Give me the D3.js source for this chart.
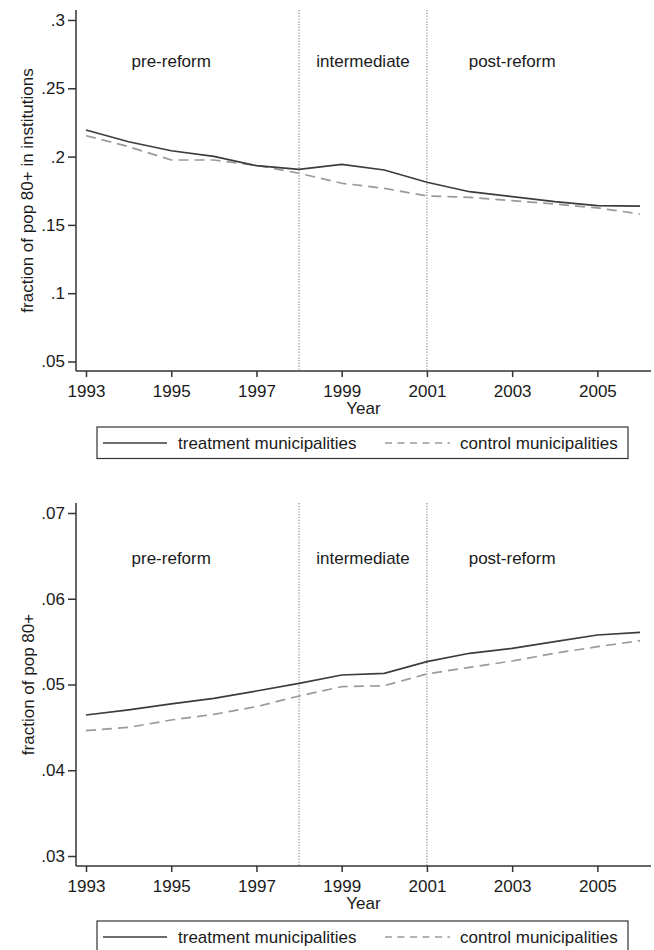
<!DOCTYPE html>
<html>
<head>
<meta charset="utf-8">
<script src="https://cdn.jsdelivr.net/npm/d3@7"></script>
<style>
  body { margin: 0; background: #fff; }
  svg text { font-family: "Liberation Sans", Arial, sans-serif; fill: #1a1a1a; }
</style>
</head>
<body>
<div id="chart"></div>
<script>
// data ++++++++++++++++++++++++++++++++++++++++++
const years = [1993, 1994, 1995, 1996, 1997, 1998, 1999, 2000, 2001, 2002, 2003, 2004, 2005, 2006];
const xTicks = [1993, 1995, 1997, 1999, 2001, 2003, 2005];
const reformYears = [1998, 2001];
const periodLabels = [
  { text: "pre-reform", year: 1995 },
  { text: "intermediate", year: 1999.5 },
  { text: "post-reform", year: 2003 }
];
const seriesNames = ["treatment municipalities", "control municipalities"];

// panel 1: fraction of pop 80+ in institutions
const instTreatment = [0.2195, 0.2109, 0.2043, 0.2002, 0.1934, 0.1907, 0.1943, 0.1902, 0.1812, 0.1743, 0.1707, 0.1670, 0.1641, 0.1638];
const instControl   = [0.2153, 0.2073, 0.1975, 0.1975, 0.1936, 0.1878, 0.1805, 0.1768, 0.1712, 0.1702, 0.1677, 0.1653, 0.1624, 0.1580];
const instTicks = [0.05, 0.1, 0.15, 0.2, 0.25, 0.3];

// panel 2: fraction of pop 80+
const popTreatment = [0.04644, 0.04703, 0.04773, 0.04839, 0.04924, 0.05014, 0.05111, 0.05130, 0.05266, 0.05364, 0.05422, 0.05499, 0.05577, 0.05609];
const popControl   = [0.04462, 0.04500, 0.04586, 0.04652, 0.04742, 0.04866, 0.04975, 0.04986, 0.05123, 0.05200, 0.05274, 0.05364, 0.05441, 0.05511];
const popTicks = [0.03, 0.04, 0.05, 0.06, 0.07];
// data ------------------------------------------

const width = 654;
const height = 950;

const svg = d3.select("#chart")
  .append("svg")
  .attr("width", width)
  .attr("height", height);

// shared x scale (same horizontal layout for both panels)
const x = d3.scaleLinear().domain([1993, 2006]).range([86, 640]);
const axisLeft = 76;
const axisRight = 651;

// strip the leading zero like Stata does: .05, .1
const fmtY = d => String(+d.toFixed(3)).replace(/^0\./, ".");

function drawPanel(cfg) {
  const g = svg.append("g");
  const y = d3.scaleLinear().domain(cfg.yDomain).range(cfg.yRange);
  const top = cfg.axisTop, bottom = cfg.axisBottom;

  // reform boundaries
  g.selectAll("line.reform")
    .data(reformYears)
    .enter()
    .append("line")
    .attr("class", "reform")
    .attr("x1", d => x(d)).attr("x2", d => x(d))
    .attr("y1", top).attr("y2", bottom)
    .attr("stroke", "#8a8a8a")
    .attr("stroke-width", 1.2)
    .attr("stroke-dasharray", "1.2,1.6");

  // period labels
  g.selectAll("text.period")
    .data(periodLabels)
    .enter()
    .append("text")
    .attr("class", "period")
    .attr("x", d => x(d.year))
    .attr("y", y(cfg.labelValue))
    .attr("dy", "0.35em")
    .attr("text-anchor", "middle")
    .attr("font-size", "17px")
    .text(d => d.text);

  // series lines
  const line = d3.line()
    .x((d, i) => x(years[i]))
    .y(d => y(d));

  g.append("path")
    .datum(cfg.control)
    .attr("fill", "none")
    .attr("stroke", "#9a9a9a")
    .attr("stroke-width", 1.7)
    .attr("stroke-dasharray", "10,6")
    .attr("d", line);

  g.append("path")
    .datum(cfg.treatment)
    .attr("fill", "none")
    .attr("stroke", "#3c3c3c")
    .attr("stroke-width", 1.7)
    .attr("d", line);

  // y axis
  const yAxis = g.append("g")
    .attr("transform", `translate(${axisLeft},0)`)
    .call(d3.axisLeft(y).tickValues(cfg.yTicks).tickFormat(fmtY).tickSize(8).tickPadding(3));
  yAxis.select(".domain").attr("d", `M0,${top}V${bottom}`);
  yAxis.selectAll("line, path").attr("stroke", "#333").attr("stroke-width", 1.5);
  yAxis.selectAll("text").attr("font-size", "17px").attr("fill", "#1a1a1a");

  // x axis
  const xAxis = g.append("g")
    .attr("transform", `translate(0,${bottom})`)
    .call(d3.axisBottom(x).tickValues(xTicks).tickFormat(d3.format("d")).tickSize(6).tickPadding(8));
  xAxis.select(".domain").attr("d", `M${axisLeft},0H${axisRight}`);
  xAxis.selectAll("line, path").attr("stroke", "#333").attr("stroke-width", 1.5);
  xAxis.selectAll("text").attr("font-size", "17px").attr("fill", "#1a1a1a");

  // axis titles
  g.append("text")
    .attr("x", (axisLeft + axisRight) / 2)
    .attr("y", bottom + 37)
    .attr("dy", "0.35em")
    .attr("text-anchor", "middle")
    .attr("font-size", "17px")
    .text("Year");

  g.append("text")
    .attr("transform", `translate(${cfg.titleX},${(top + bottom) / 2}) rotate(-90)`)
    .attr("dy", "0.35em")
    .attr("text-anchor", "middle")
    .attr("font-size", "17px")
    .text(cfg.yTitle);

  // legend
  const lg = g.append("g").attr("transform", `translate(0,${cfg.legendTop})`);
  lg.append("rect")
    .attr("x", 97).attr("y", 0)
    .attr("width", 531).attr("height", 31.5)
    .attr("fill", "#fff")
    .attr("stroke", "#333")
    .attr("stroke-width", 1.2);

  const entries = [
    { name: seriesNames[0], x0: 103, x1: 167, tx: 178, stroke: "#3c3c3c", dash: null },
    { name: seriesNames[1], x0: 385, x1: 450, tx: 460, stroke: "#9a9a9a", dash: "7,5.5" }
  ];
  entries.forEach(e => {
    lg.append("line")
      .attr("x1", e.x0).attr("x2", e.x1)
      .attr("y1", 16).attr("y2", 16)
      .attr("stroke", e.stroke)
      .attr("stroke-width", 1.7)
      .attr("stroke-dasharray", e.dash);
    lg.append("text")
      .attr("x", e.tx).attr("y", 16)
      .attr("dy", "0.35em")
      .attr("font-size", "17px")
      .text(e.name);
  });
}

drawPanel({
  treatment: instTreatment,
  control: instControl,
  yDomain: [0.05, 0.3],
  yRange: [361.5, 20],
  yTicks: instTicks,
  axisTop: 10,
  axisBottom: 371,
  labelValue: 0.27,
  titleX: 27,
  yTitle: "fraction of pop 80+ in institutions",
  legendTop: 427
});

drawPanel({
  treatment: popTreatment,
  control: popControl,
  yDomain: [0.03, 0.07],
  yRange: [856, 513],
  yTicks: popTicks,
  axisTop: 503,
  axisBottom: 866,
  labelValue: 0.0647,
  titleX: 28,
  yTitle: "fraction of pop 80+",
  legendTop: 921
});
</script>
</body>
</html>
